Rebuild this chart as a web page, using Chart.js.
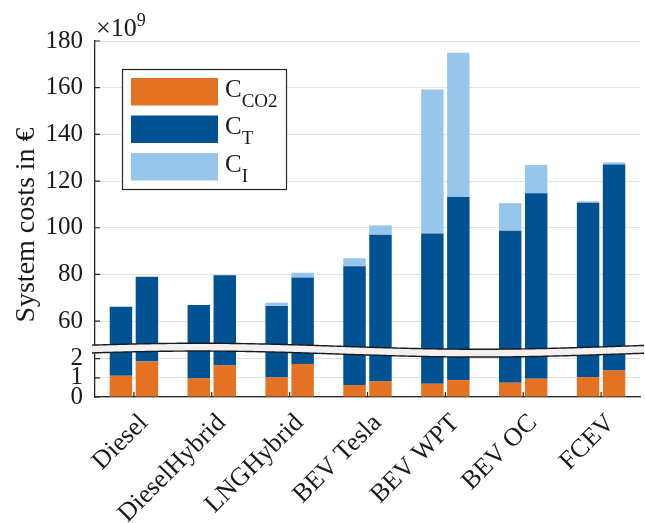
<!DOCTYPE html>
<html><head><meta charset="utf-8">
<script src="https://cdn.jsdelivr.net/npm/chart.js@4/dist/chart.umd.min.js"></script>
<style>html,body{margin:0;padding:0;background:#fff}#wrap{width:645px;height:523px;position:relative}</style>
</head><body><div id="wrap"><canvas id="c"></canvas></div>
<script>
// Values in units of 10^9 €
const categories = ['Diesel','DieselHybrid','LNGHybrid','BEV Tesla','BEV WPT','BEV OC','FCEV'];
const co2Left  = [1.11, 0.97, 1.02, 0.62, 0.69, 0.74, 1.04];
const tLeft    = [65.1, 65.9, 65.5, 82.9, 96.9, 98.0, 109.7];
const iLeft    = [0.0, 0.0, 1.4, 3.4, 61.6, 11.8, 0.6];
const co2Right = [1.85, 1.65, 1.73, 0.81, 0.88, 0.95, 1.39];
const tRight   = [77.2, 78.0, 77.0, 96.2, 112.3, 113.8, 125.7];
const iRight   = [0.0, 0.0, 2.0, 4.0, 61.8, 12.1, 0.9];
const yTicks   = [0, 1, 2, 60, 80, 100, 120, 140, 160, 180];
const lowerEnd = 2.5;   // lower axis segment ends here
const upperStart = 48;  // upper axis segment starts here
const yTitle = 'System costs in €';

const ORANGE = '#E37222', BLUE = '#005293', LIGHT = '#98C6EA';
const FONT = "'Liberation Serif', Tinos, 'Times New Roman', serif";
const STRETCH = 8.2; // lower segment magnification

class BrokenLinearScale extends Chart.LinearScale {
  toVirtual(v) {
    v = +v;
    if (v <= lowerEnd) return v * STRETCH;
    if (v >= upperStart) return lowerEnd * STRETCH + (v - upperStart);
    return lowerEnd * STRETCH;
  }
  getPixelForValue(value) {
    if (value === null || value === undefined || isNaN(value)) return NaN;
    return this.getPixelForDecimal(this.toVirtual(value) / this.toVirtual(this.max));
  }
  getValueForPixel(pixel) {
    const vv = this.getDecimalForPixel(pixel) * this.toVirtual(this.max);
    const lv = lowerEnd * STRETCH;
    return vv <= lv ? vv / STRETCH : upperStart + (vv - lv);
  }
}
BrokenLinearScale.id = 'brokenLinear';
BrokenLinearScale.defaults = Chart.LinearScale.defaults;
Chart.register(BrokenLinearScale);

const decorPlugin = {
  id: 'decor',
  afterDraw(chart) {
    const ctx = chart.ctx, ca = chart.chartArea, xs = chart.scales.x, ys = chart.scales.y;
    ctx.save();
    // inner tick marks
    ctx.strokeStyle = '#262626'; ctx.lineWidth = 1.2;
    ctx.beginPath();
    categories.forEach((c, i) => { const x = xs.getPixelForValue(i); ctx.moveTo(x, ca.bottom); ctx.lineTo(x, ca.bottom - 5); });
    yTicks.forEach(v => { const y = ys.getPixelForValue(v); ctx.moveTo(ca.left, y); ctx.lineTo(ca.left + 5, y); });
    ctx.stroke();
    // axis break band
    const yb = ys.getPixelForValue(lowerEnd) + 1;
    const x0 = ca.left - 3, x1 = chart.width;
    const w = ca.right - ca.left;
    const wave = x => -3 * Math.cos(2 * Math.PI * (x - ca.left - 0.19 * w) / (1.03 * w));
    const half = 3.9;
    const topPts = [], botPts = [];
    for (let x = x0; x <= x1; x += 2) { topPts.push([x, yb + wave(x) - half]); botPts.push([x, yb + wave(x) + half]); }
    ctx.beginPath();
    topPts.forEach((p, i) => i ? ctx.lineTo(p[0], p[1]) : ctx.moveTo(p[0], p[1]));
    for (let i = botPts.length - 1; i >= 0; i--) ctx.lineTo(botPts[i][0], botPts[i][1]);
    ctx.closePath();
    ctx.fillStyle = '#f1f1f1'; ctx.fill();
    ctx.strokeStyle = '#1a1a1a'; ctx.lineWidth = 1.4;
    [topPts, botPts].forEach(pts => { ctx.beginPath(); pts.forEach((p, i) => i ? ctx.lineTo(p[0], p[1]) : ctx.moveTo(p[0], p[1])); ctx.stroke(); });
    // y title
    ctx.fillStyle = '#1a1a1a';
    ctx.save();
    ctx.translate(27, (ca.top + ca.bottom) / 2 + 6);
    ctx.rotate(-Math.PI / 2);
    ctx.textAlign = 'center'; ctx.textBaseline = 'middle';
    ctx.font = '28px ' + FONT;
    ctx.fillText(yTitle, 0, 0);
    ctx.restore();
    // exponent
    ctx.textBaseline = 'alphabetic'; ctx.textAlign = 'left';
    ctx.font = '26px ' + FONT;
    ctx.fillText('\u00d710', ca.left + 1, 36);
    const wx = ctx.measureText('\u00d710').width;
    ctx.font = '18px ' + FONT;
    ctx.fillText('9', ca.left + 1 + wx, 26);
    // legend
    const lx = ca.left + 27, ly = ca.top + 28, lw = 164, lh = 120;
    ctx.fillStyle = '#fff'; ctx.fillRect(lx, ly, lw, lh);
    ctx.strokeStyle = '#262626'; ctx.lineWidth = 1.2; ctx.strokeRect(lx + 0.5, ly + 0.5, lw, lh);
    const items = [[ORANGE, 'CO2'], [BLUE, 'T'], [LIGHT, 'I']];
    items.forEach((it, i) => {
      const sy = ly + 9 + i * 37.5;
      ctx.fillStyle = it[0]; ctx.fillRect(lx + 9, sy, 87, 27.5);
      ctx.fillStyle = '#1a1a1a';
      ctx.font = '25px ' + FONT;
      ctx.fillText('C', lx + 103, sy + 18.5);
      const cw = ctx.measureText('C').width;
      ctx.font = '19px ' + FONT;
      ctx.fillText(it[1], lx + 103 + cw, sy + 28.7);
    });
    ctx.restore();
  }
};

const mk = (label, data, stack, color) => ({ label, data, stack, backgroundColor: color, borderWidth: 0, barPercentage: 0.865, categoryPercentage: 0.667 });

new Chart(document.getElementById('c'), {
  type: 'bar',
  data: {
    labels: categories,
    datasets: [
      mk('C_CO2', co2Left, 'L', ORANGE), mk('C_T', tLeft, 'L', BLUE), mk('C_I', iLeft, 'L', LIGHT),
      mk('C_CO2', co2Right, 'R', ORANGE), mk('C_T', tRight, 'R', BLUE), mk('C_I', iRight, 'R', LIGHT)
    ]
  },
  options: {
    responsive: true, maintainAspectRatio: false, animation: false,
    layout: { padding: { top: 41, right: 5, left: 0, bottom: 0 } },
    plugins: { legend: { display: false }, tooltip: { enabled: false } },
    scales: {
      x: {
        stacked: true, offset: true,
        grid: { display: false, drawTicks: false },
        border: { color: '#262626', width: 1.3 },
        ticks: { font: { family: FONT, size: 26 }, color: '#1a1a1a', minRotation: 45, maxRotation: 45, autoSkip: false, padding: 11, labelOffset: 10 },
        afterFit: s => { s.height = 126; }
      },
      y: {
        type: 'brokenLinear', stacked: true, min: 0, max: 180,
        afterBuildTicks: s => { s.ticks = yTicks.map(v => ({ value: v })); },
        grid: { color: '#e2e2e2', drawTicks: false, lineWidth: 1 },
        border: { color: '#262626', width: 1.3 },
        ticks: { font: { family: FONT, size: 25 }, color: '#1a1a1a', autoSkip: false, padding: 12, callback: v => String(v) },
        afterFit: s => { s.width = 95; }
      }
    }
  },
  plugins: [decorPlugin]
});
</script>
</body></html>
